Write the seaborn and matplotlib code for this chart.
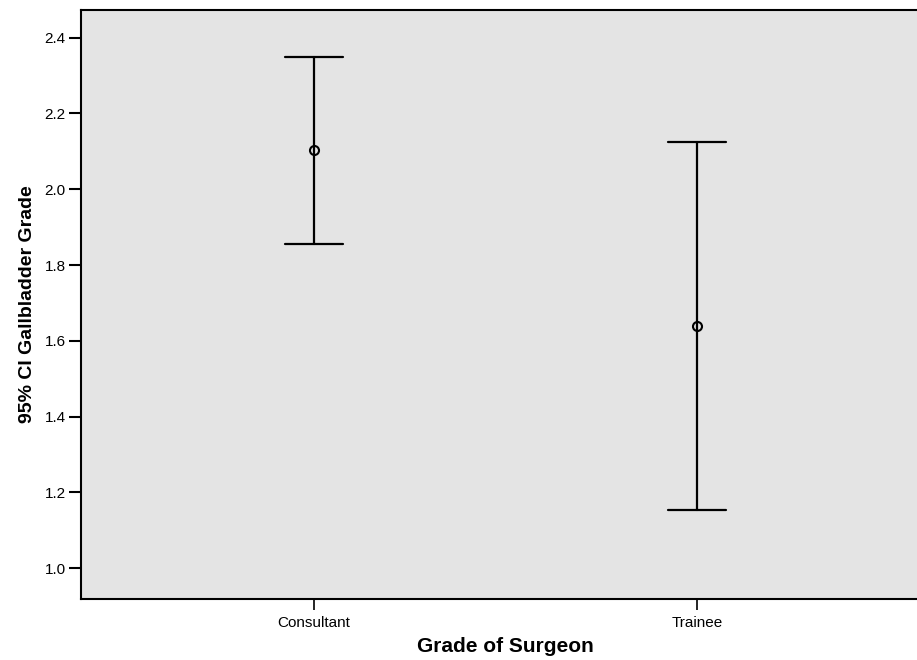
import matplotlib
matplotlib.use("Agg")
import matplotlib.pyplot as plt
import seaborn as sns
import pandas as pd

# -----------------------------
# DATA
# -----------------------------
grades = ["Consultant", "Trainee"]
means = [2.104, 1.640]
ci_low = [1.855, 1.153]
ci_high = [2.350, 2.126]

y_ticks = [1.0, 1.2, 1.4, 1.6, 1.8, 2.0, 2.2, 2.4]

# long table: low / mean / high per group -> median gives the mean, min/max give the CI
df = pd.DataFrame({
    "Grade of Surgeon": [g for g in grades for _ in range(3)],
    "value": [v for lo, m, hi in zip(ci_low, means, ci_high) for v in (lo, m, hi)],
})

# -----------------------------
# STYLE
# -----------------------------
sns.set_style("ticks")
plt.rcParams["font.family"] = ["Liberation Sans", "DejaVu Sans"]
plt.rcParams["text.color"] = "black"
plt.rcParams["axes.labelcolor"] = "black"
plt.rcParams["xtick.color"] = "black"
plt.rcParams["ytick.color"] = "black"
BG = "#e4e4e4"

fig = plt.figure(figsize=(9.17, 6.6), dpi=100)
ax = fig.add_axes([81 / 917, 61 / 660, 849 / 917, 589 / 660])
ax.set_facecolor(BG)

sns.pointplot(
    data=df, x="Grade of Surgeon", y="value", ax=ax,
    estimator="median", errorbar=lambda v: (v.min(), v.max()),
    color="black", linestyle="none", marker="o", markersize=6.5,
    markerfacecolor="none", markeredgewidth=1.5,
    capsize=0.15, err_kws={"linewidth": 1.6},
)

ax.set_xlim(-0.608, 1.608)
ax.set_ylim(0.919, 2.473)
ax.set_yticks(y_ticks)
ax.set_yticklabels([f"{t:.1f}" for t in y_ticks])

for side in ["left", "bottom", "top", "right"]:
    ax.spines[side].set_visible(True)
    ax.spines[side].set_linewidth(1.5)
    ax.spines[side].set_color("black")

ax.tick_params(axis="y", length=9, width=1.5, pad=2, labelsize=11)
ax.tick_params(axis="x", length=8, width=1.2, pad=4, labelsize=11)

ax.set_xlabel("Grade of Surgeon", fontsize=15, fontweight="bold", labelpad=5)
ax.set_ylabel("95% CI Gallbladder Grade", fontsize=14, fontweight="bold", labelpad=6)

fig.savefig("out.png", dpi=100)
